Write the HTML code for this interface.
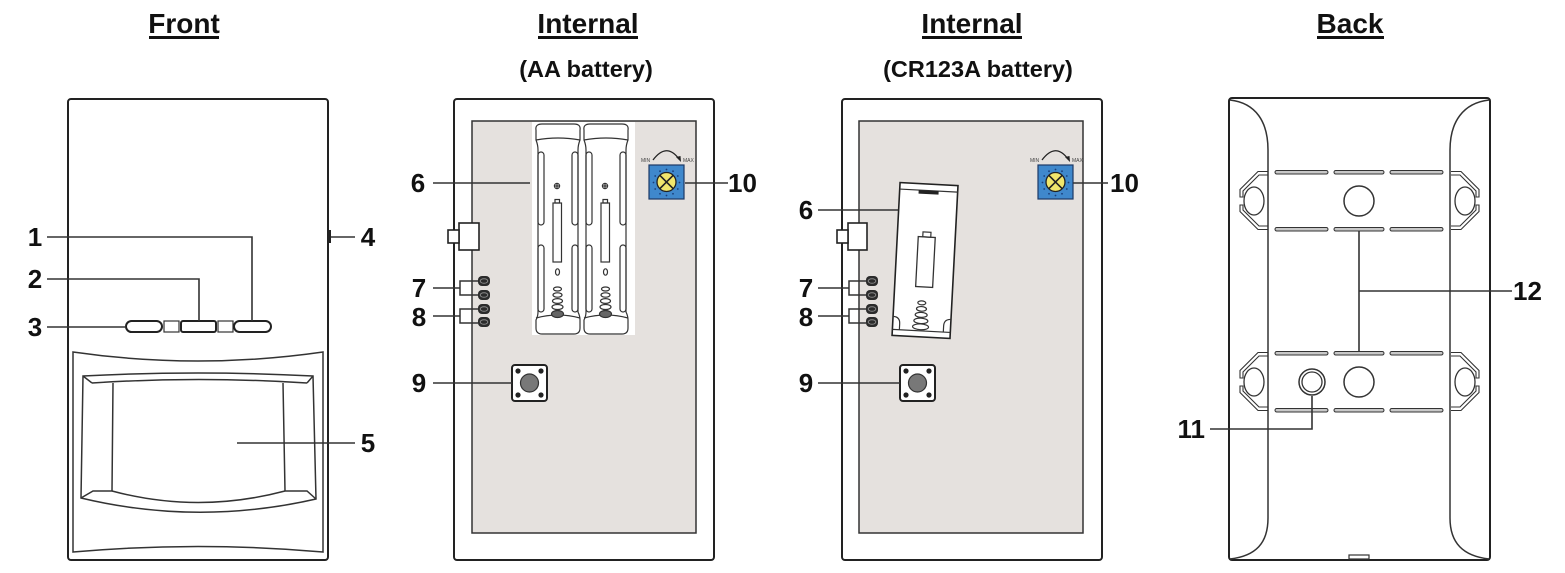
<!DOCTYPE html>
<html>
<head>
<meta charset="utf-8">
<style>
  html,body{margin:0;padding:0;background:#fff;}
  svg{display:block;}
  text{font-family:"Liberation Sans",Arial,sans-serif;font-weight:bold;fill:#111;}
</style>
</head>
<body>
<svg width="1565" height="573" viewBox="0 0 1565 573" xmlns="http://www.w3.org/2000/svg">
  <defs>
    <g id="pins">
      <rect x="0" y="-5" width="12" height="10" rx="4" fill="#2b2b2b"/>
      <ellipse cx="6" cy="0" rx="3.8" ry="2.3" fill="none" stroke="#8a8a8a" stroke-width="1"/>
    </g>
    <g id="knob">
      <rect x="0" y="0" width="35" height="34" fill="#3f88cc" stroke="#1d3a66" stroke-width="1.2"/>
      <g fill="#1b3f7a">
        <circle cx="17.5" cy="4.5" r="0.9"/><circle cx="24" cy="6.2" r="0.9"/><circle cx="28.8" cy="11" r="0.9"/>
        <circle cx="30.5" cy="17.5" r="0.9"/><circle cx="28.8" cy="24" r="0.9"/><circle cx="24" cy="28.8" r="0.9"/>
        <circle cx="17.5" cy="30.5" r="0.9"/><circle cx="11" cy="28.8" r="0.9"/><circle cx="6.2" cy="24" r="0.9"/>
        <circle cx="4.5" cy="17.5" r="0.9"/><circle cx="6.2" cy="11" r="0.9"/><circle cx="11" cy="6.2" r="0.9"/>
      </g>
      <circle cx="17.5" cy="17" r="9.5" fill="#f1e66c" stroke="#222" stroke-width="1.3"/>
      <line x1="10.8" y1="10.3" x2="24.2" y2="23.7" stroke="#222" stroke-width="1.6"/>
      <line x1="24.2" y1="10.3" x2="10.8" y2="23.7" stroke="#222" stroke-width="1.6"/>
      <path d="M4,-5 Q17.5,-23 30,-6" fill="none" stroke="#222" stroke-width="1.3"/>
      <path d="M27,-8 L32,-3 L31.5,-9 Z" fill="#222"/>
      <text x="-8" y="-3" style="font-size:5px;font-weight:normal;fill:#444">MIN</text>
      <text x="34" y="-3" style="font-size:5px;font-weight:normal;fill:#444">MAX</text>
    </g>
    <g id="button">
      <rect x="0" y="0" width="35" height="36" rx="3" fill="#fff" stroke="#222" stroke-width="2"/>
      <circle cx="17.5" cy="18" r="9" fill="#787878" stroke="#333" stroke-width="1.2"/>
      <circle cx="6" cy="6" r="2.6" fill="#222"/>
      <circle cx="29" cy="6" r="2.6" fill="#222"/>
      <circle cx="6" cy="30" r="2.6" fill="#222"/>
      <circle cx="29" cy="30" r="2.6" fill="#222"/>
    </g>
    <g id="cell" fill="none" stroke="#333" stroke-width="1.2">
      <path d="M2,130 Q1,124 8,124 L40,124 Q47,124 46,130 L46,140 Q44,145 44,150 L44,312 Q46,316 46,320 L46,328 Q46,334 40,334 L8,334 Q2,334 2,328 L2,320 Q4,316 4,312 L4,150 Q4,145 2,140 Z"/>
      <path d="M2,140 Q24,136 46,140"/>
      <path d="M2,318 Q24,312 46,318"/>
      <rect x="4" y="152" width="6" height="73" rx="3"/>
      <rect x="4" y="245" width="6" height="67" rx="3"/>
      <rect x="38" y="152" width="6" height="73" rx="3"/>
      <rect x="38" y="245" width="6" height="67" rx="3"/>
      <circle cx="23" cy="186" r="2.6"/>
      <line x1="20.5" y1="186" x2="25.5" y2="186"/>
      <line x1="23" y1="183.5" x2="23" y2="188.5"/>
      <rect x="19" y="203" width="8.5" height="59"/>
      <rect x="21" y="199.5" width="4.5" height="3.5"/>
      <ellipse cx="23.5" cy="272" rx="2" ry="3.2"/>
      <ellipse cx="23.5" cy="289" rx="4" ry="2"/>
      <ellipse cx="23.5" cy="295" rx="4.5" ry="2.2"/>
      <ellipse cx="23.5" cy="301" rx="5" ry="2.4"/>
      <ellipse cx="23.5" cy="307" rx="5.5" ry="2.5"/>
      <ellipse cx="23.5" cy="314" rx="6" ry="3.5" fill="#666"/>
    </g>
    <g id="bracket">
      <path d="M1268,171.5 L1258,171.5 L1240,189.5 L1240,197 L1243,197 L1243,191 L1259,175 L1268,175" fill="none" stroke="#333" stroke-width="1.1"/>
      <path d="M1268,229.5 L1258,229.5 L1240,211.5 L1240,205 L1243,205 L1243,210 L1259,226 L1268,226" fill="none" stroke="#333" stroke-width="1.1"/>
      <ellipse cx="1254" cy="201" rx="10" ry="14" fill="none" stroke="#333" stroke-width="1.3"/>
    </g>
    <g id="dashes" fill="#c8c8c8" stroke="#333" stroke-width="1">
      <rect x="1275" y="170.5" width="53" height="3.5" rx="1.7"/>
      <rect x="1334" y="170.5" width="50" height="3.5" rx="1.7"/>
      <rect x="1390" y="170.5" width="53" height="3.5" rx="1.7"/>
      <rect x="1275" y="227.5" width="53" height="3.5" rx="1.7"/>
      <rect x="1334" y="227.5" width="50" height="3.5" rx="1.7"/>
      <rect x="1390" y="227.5" width="53" height="3.5" rx="1.7"/>
    </g>
  </defs>

  <!-- Titles -->
  <g style="font-size:28px" text-anchor="middle">
    <text x="184" y="33">Front</text>
    <text x="588" y="33">Internal</text>
    <text x="972" y="33">Internal</text>
    <text x="1350" y="33">Back</text>
  </g>
  <g fill="#111">
    <rect x="149" y="36" width="70" height="3"/>
    <rect x="538" y="36" width="100" height="3"/>
    <rect x="922" y="36" width="100" height="3"/>
    <rect x="1317" y="36" width="67" height="3"/>
  </g>
  <g style="font-size:23.5px" text-anchor="middle">
    <text x="586" y="77">(AA battery)</text>
    <text x="978" y="77">(CR123A battery)</text>
  </g>

  <!-- ================= FRONT ================= -->
  <rect x="68" y="99" width="260" height="461" rx="3" fill="none" stroke="#222" stroke-width="2"/>
  <rect x="328" y="230" width="3" height="13" fill="#222"/>
  <!-- buttons -->
  <rect x="126" y="321" width="36" height="11" rx="5.5" fill="#fff" stroke="#222" stroke-width="2"/>
  <rect x="164" y="321" width="15" height="11" fill="none" stroke="#333" stroke-width="1.2"/>
  <rect x="181" y="321" width="35" height="11" rx="2" fill="#fff" stroke="#222" stroke-width="2"/>
  <rect x="218" y="321" width="15" height="11" fill="none" stroke="#333" stroke-width="1.2"/>
  <rect x="234" y="321" width="37" height="11" rx="5.5" fill="#fff" stroke="#222" stroke-width="2"/>
  <!-- lens -->
  <g fill="none" stroke="#333" stroke-width="1.5">
    <path d="M73,352 Q198,370 323,352 L323,552 Q198,541 73,552 Z"/>
    <path d="M83,376 Q198,370 313,376 L316,499 Q198,526 81,498 Z"/>
    <path d="M92,383 Q198,376 307,383"/>
    <path d="M83,376 L92,383 M313,376 L307,383"/>
    <path d="M113,383 L112,491 M283,383 L285,491"/>
    <path d="M81,498 L93,491 L112,491 Q198,514 285,491 L307,491 L316,499"/>
  </g>
  <!-- leaders -->
  <g fill="none" stroke="#333" stroke-width="1.6">
    <path d="M47,237 L252,237 L252,321"/>
    <path d="M47,279 L199,279 L199,321"/>
    <path d="M47,327 L126,327"/>
    <path d="M331,237 L355,237"/>
    <path d="M237,443 L355,443"/>
  </g>
  <g style="font-size:26px" text-anchor="middle">
    <text x="35" y="246">1</text>
    <text x="35" y="288">2</text>
    <text x="35" y="336">3</text>
    <text x="368" y="246">4</text>
    <text x="368" y="452">5</text>
  </g>

  <!-- ================= INTERNAL AA ================= -->
  <rect x="454" y="99" width="260" height="461" rx="3" fill="none" stroke="#222" stroke-width="2"/>
  <rect x="472" y="121" width="224" height="412" fill="#e5e1de" stroke="#333" stroke-width="1.5"/>
  <rect x="532" y="122" width="103" height="213" fill="#fff"/>
  <use href="#cell" x="534" y="0"/>
  <use href="#cell" x="582" y="0"/>
  <use href="#knob" x="649" y="165"/>
  <rect x="459" y="223" width="20" height="27" fill="#fff" stroke="#222" stroke-width="1.6"/>
  <rect x="448" y="230" width="11" height="13" fill="#fff" stroke="#222" stroke-width="1.6"/>
  <g fill="none" stroke="#333" stroke-width="1.5">
    <path d="M478,281 L460,281 L460,295 L478,295"/>
    <path d="M478,309 L460,309 L460,323 L478,323"/>
  </g>
  <use href="#pins" x="478" y="281"/>
  <use href="#pins" x="478" y="295"/>
  <use href="#pins" x="478" y="309"/>
  <use href="#pins" x="478" y="322"/>
  <use href="#button" x="512" y="365"/>
  <g fill="none" stroke="#333" stroke-width="1.6">
    <path d="M433,183 L530,183"/>
    <path d="M685,183 L728,183"/>
    <path d="M433,288 L460,288"/>
    <path d="M433,316 L460,316"/>
    <path d="M433,383 L512,383"/>
  </g>
  <g style="font-size:26px" text-anchor="middle">
    <text x="418" y="192">6</text>
    <text x="419" y="297">7</text>
    <text x="419" y="326">8</text>
    <text x="419" y="392">9</text>
  </g>
  <text x="728" y="192" style="font-size:26px">10</text>

  <!-- ================= INTERNAL CR123A ================= -->
  <rect x="842" y="99" width="260" height="461" rx="3" fill="none" stroke="#222" stroke-width="2"/>
  <rect x="859" y="121" width="224" height="412" fill="#e5e1de" stroke="#333" stroke-width="1.5"/>
  <g transform="rotate(3 925 261)">
    <rect x="896" y="184" width="58" height="153" fill="#fff" stroke="#222" stroke-width="1.6"/>
    <line x1="896" y1="190.5" x2="954" y2="190.5" stroke="#333" stroke-width="1.2"/>
    <rect x="915" y="190.5" width="20" height="3.5" fill="#222"/>
    <rect x="917" y="237" width="17" height="50" fill="none" stroke="#333" stroke-width="1.3"/>
    <rect x="921.5" y="232" width="8" height="5" fill="none" stroke="#333" stroke-width="1.2"/>
    <g fill="none" stroke="#333" stroke-width="1.2">
      <ellipse cx="924" cy="303" rx="4" ry="2"/>
      <ellipse cx="924" cy="309" rx="5" ry="2.3"/>
      <ellipse cx="924" cy="315" rx="6" ry="2.5"/>
      <ellipse cx="924" cy="321" rx="7" ry="2.7"/>
      <ellipse cx="924" cy="327" rx="8" ry="2.9"/>
    </g>
    <line x1="896" y1="331" x2="954" y2="331" stroke="#333" stroke-width="1.2"/>
    <path d="M896,318 Q903,318 903,325 L903,331" fill="none" stroke="#333" stroke-width="1.2"/>
    <path d="M954,318 Q947,318 947,325 L947,331" fill="none" stroke="#333" stroke-width="1.2"/>
  </g>
  <use href="#knob" x="1038" y="165"/>
  <rect x="848" y="223" width="19" height="27" fill="#fff" stroke="#222" stroke-width="1.6"/>
  <rect x="837" y="230" width="11" height="13" fill="#fff" stroke="#222" stroke-width="1.6"/>
  <g fill="none" stroke="#333" stroke-width="1.5">
    <path d="M866,281 L849,281 L849,295 L866,295"/>
    <path d="M866,309 L849,309 L849,323 L866,323"/>
  </g>
  <use href="#pins" x="866" y="281"/>
  <use href="#pins" x="866" y="295"/>
  <use href="#pins" x="866" y="309"/>
  <use href="#pins" x="866" y="322"/>
  <use href="#button" x="900" y="365"/>
  <g fill="none" stroke="#333" stroke-width="1.6">
    <path d="M818,210 L898,210"/>
    <path d="M1073,183 L1108,183"/>
    <path d="M818,288 L849,288"/>
    <path d="M818,316 L849,316"/>
    <path d="M818,383 L900,383"/>
  </g>
  <g style="font-size:26px" text-anchor="middle">
    <text x="806" y="219">6</text>
    <text x="806" y="297">7</text>
    <text x="806" y="326">8</text>
    <text x="806" y="392">9</text>
  </g>
  <text x="1110" y="192" style="font-size:26px">10</text>

  <!-- ================= BACK ================= -->
  <rect x="1229" y="98" width="261" height="462" rx="3" fill="none" stroke="#222" stroke-width="2"/>
  <g fill="none" stroke="#333" stroke-width="1.5">
    <path d="M1230,100 C1256,103 1268,122 1268,150 L1268,518 C1268,543 1256,556 1230,559"/>
    <path d="M1489,100 C1463,103 1450,122 1450,150 L1450,518 C1450,543 1463,556 1489,559"/>
  </g>
  <rect x="1349" y="555" width="20" height="4" fill="#fff" stroke="#333" stroke-width="1.2"/>
  <!-- upper bracket -->
  <use href="#dashes"/>
  <use href="#bracket"/>
  <use href="#bracket" transform="matrix(-1 0 0 1 2719 0)"/>
  <circle cx="1359" cy="201" r="15" fill="none" stroke="#333" stroke-width="1.5"/>
  <!-- lower bracket -->
  <g transform="translate(0 181)">
    <use href="#dashes"/>
    <use href="#bracket"/>
    <use href="#bracket" transform="matrix(-1 0 0 1 2719 0)"/>
    <circle cx="1359" cy="201" r="15" fill="none" stroke="#333" stroke-width="1.5"/>
  </g>
  <circle cx="1312" cy="382" r="13" fill="none" stroke="#333" stroke-width="1.5"/>
  <circle cx="1312" cy="382" r="10" fill="none" stroke="#333" stroke-width="1.3"/>
  <g fill="none" stroke="#333" stroke-width="1.6">
    <path d="M1359,231 L1359,352"/>
    <path d="M1359,291 L1512,291"/>
    <path d="M1210,429 L1312,429 L1312,396"/>
  </g>
  <text x="1513" y="300" style="font-size:26px">12</text>
  <text x="1205" y="438" style="font-size:26px" text-anchor="end">11</text>
</svg>
</body>
</html>
